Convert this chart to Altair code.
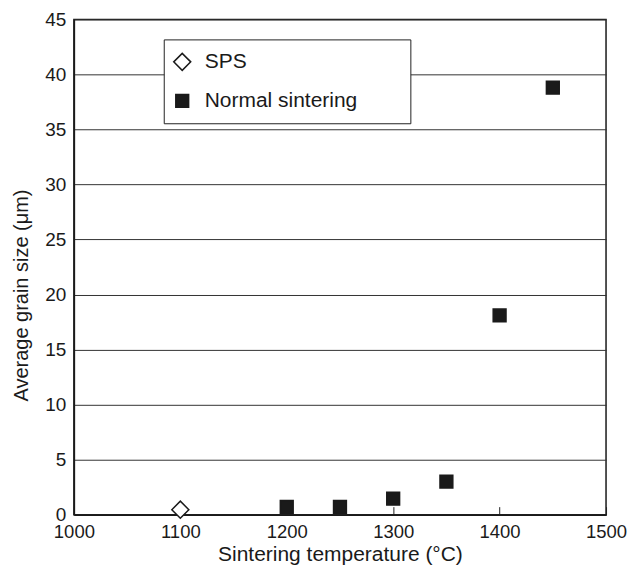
import altair as alt
import pandas as pd

series_names = ["SPS", "Normal sintering"]
sps_temp = [1100]
sps_size = [0.45]
normal_temp = [1200, 1250, 1300, 1350, 1400, 1450]
normal_size = [0.7, 0.7, 1.45, 3.0, 18.1, 38.8]
x_ticks = [1000, 1100, 1200, 1300, 1400, 1500]
y_ticks = [0, 5, 10, 15, 20, 25, 30, 35, 40, 45]

df = pd.DataFrame({
    "temp": sps_temp + normal_temp,
    "size": sps_size + normal_size,
    "series": ["SPS"] * len(sps_temp) + ["Normal sintering"] * len(normal_temp),
})

W, H = 533, 496
FONT = "Liberation Sans"
INK = "#1a1a1a"

x_scale = alt.Scale(domain=[1000, 1500], nice=False, zero=False)
y_scale = alt.Scale(domain=[0, 45], nice=False)

legend = alt.Legend(
    title="\u00a0",
    titleOrient="right",
    titlePadding=41,
    titleFontSize=10,
    orient="none",
    legendX=90,
    legendY=20,
    padding=12,
    strokeColor="#222",
    fillColor="white",
    labelFont=FONT,
    labelFontSize=21,
    labelColor=INK,
    labelOffset=12,
    symbolOffset=-4,
    rowPadding=15,
    symbolStrokeWidth=1.5,
)

points = alt.Chart(df).mark_point(
    filled=True, opacity=1, strokeWidth=1.5
).encode(
    x=alt.X(
        "temp:Q",
        scale=x_scale,
        axis=alt.Axis(
            values=x_ticks,
            title="Sintering temperature (°C)",
            ticks=False,
            grid=False,
            labelPadding=8,
            labelFontSize=18.5,
            labelFlush=False,
            titleFontSize=21,
            titleY=46,
            titleBaseline="alphabetic",
            format="d",
        ),
    ),
    y=alt.Y(
        "size:Q",
        scale=y_scale,
        axis=alt.Axis(
            values=y_ticks,
            title="Average grain size (μm)",
            ticks=False,
            grid=True,
            gridColor="#333",
            gridWidth=1,
            labelPadding=8,
            labelFontSize=19,
            labelFlush=False,
            titleFontSize=20,
            titleX=-52,
            titleY=276,
            titleAlign="center",
            titleBaseline="middle",
        ),
    ),
    shape=alt.Shape("series:N", scale=alt.Scale(domain=series_names, range=["diamond", "square"]), legend=legend),
    fill=alt.Fill("series:N", scale=alt.Scale(domain=series_names, range=["white", INK]), legend=legend),
    stroke=alt.Stroke("series:N", scale=alt.Scale(domain=series_names, range=[INK, INK]), legend=legend),
    size=alt.Size("series:N", scale=alt.Scale(domain=series_names, range=[290, 165]), legend=legend),
)

inner_ticks = alt.Chart(df).mark_point(opacity=0).encode(
    x=alt.X(
        "temp:Q",
        scale=x_scale,
        axis=alt.Axis(
            orient="top",
            offset=-H,
            values=x_ticks,
            labels=False,
            domain=False,
            grid=False,
            ticks=True,
            tickSize=8,
            tickColor="#222",
            tickWidth=1,
            title="",
        ),
    ),
)

chart = alt.layer(inner_ticks, points).resolve_axis(x="independent").properties(
    width=W,
    height=H,
    autosize=alt.AutoSizeParams(type="none"),
    padding={"left": 66, "top": 11, "right": 22, "bottom": 50},
).configure_view(
    stroke=INK, strokeWidth=1.5
).configure_axis(
    domainColor=INK,
    domainWidth=1.5,
    labelFont=FONT,
    titleFont=FONT,
    labelColor=INK,
    titleColor=INK,
    titleFontWeight="normal",
)

chart.save("out.html", embed_options={"renderer": "svg", "actions": False})
